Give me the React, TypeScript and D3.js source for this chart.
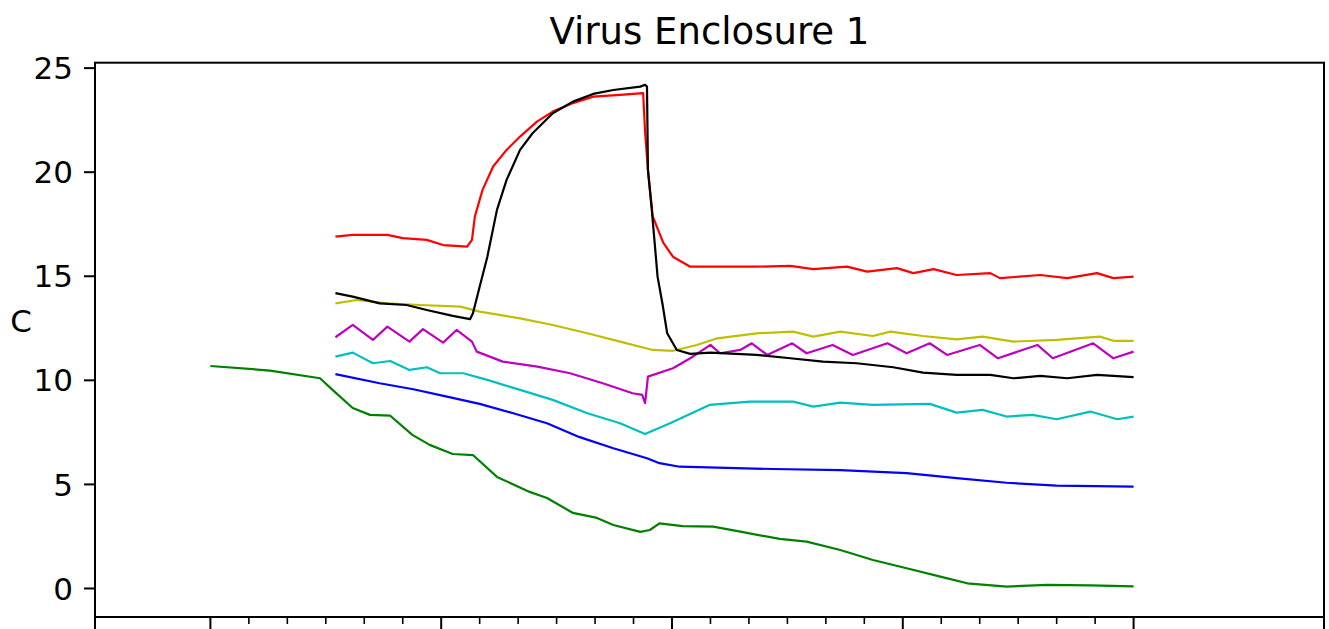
import React from "react";
import * as d3 from "d3";

// ---- data (x in hours from first major tick, y in °C) ----
const greenHours = [0, 6.2, 11.4, 12.7, 14.8, 16.6, 18.7, 21.0, 22.8, 25.2, 27.3, 29.8, 33.2, 35.0, 37.7, 40.2, 41.9, 44.7, 45.7, 46.7, 49.1, 52.3, 55.1, 59.2, 62.0, 65.5, 68.9, 72.4, 75.9, 78.7, 82.8, 87.0, 91.5, 96];
const greenValues = [10.69, 10.47, 10.1, 9.54, 8.67, 8.34, 8.3, 7.38, 6.9, 6.46, 6.41, 5.36, 4.64, 4.35, 3.63, 3.39, 3.05, 2.72, 2.81, 3.13, 3.0, 2.97, 2.73, 2.38, 2.25, 1.85, 1.37, 0.97, 0.57, 0.25, 0.09, 0.17, 0.15, 0.1];

const blueHours = [13, 17.6, 21.1, 24.6, 28.0, 31.5, 35.0, 38.4, 41.9, 45.4, 46.7, 48.8, 58.5, 65.5, 72.4, 77.6, 82.8, 88.0, 96];
const blueValues = [10.3, 9.86, 9.57, 9.22, 8.87, 8.42, 7.94, 7.27, 6.74, 6.26, 6.02, 5.85, 5.74, 5.69, 5.54, 5.3, 5.08, 4.94, 4.89];

const cyanHours = [13, 14.8, 16.9, 18.7, 20.7, 22.5, 23.9, 26.3, 28.8, 32.2, 35.6, 39.2, 42.6, 45.2, 47.8, 51.9, 56.1, 60.6, 62.7, 65.5, 68.9, 74.8, 77.6, 80.3, 82.8, 85.5, 88.0, 91.5, 94.3, 96];
const cyanValues = [11.14, 11.33, 10.82, 10.93, 10.5, 10.63, 10.34, 10.34, 10.02, 9.54, 9.06, 8.42, 7.94, 7.42, 7.94, 8.82, 8.98, 8.98, 8.74, 8.93, 8.82, 8.87, 8.45, 8.58, 8.26, 8.34, 8.13, 8.5, 8.13, 8.26];

const magentaHours = [13, 14.8, 16.9, 18.4, 20.7, 22.1, 24.2, 25.6, 27.2, 27.7, 30.4, 34.0, 37.4, 40.8, 43.9, 44.9, 45.2, 45.5, 48.1, 49.9, 52.0, 53.0, 55.1, 56.3, 57.9, 60.5, 62.0, 64.7, 66.8, 70.4, 72.4, 74.8, 76.6, 80.0, 81.9, 86.0, 87.6, 91.8, 93.9, 96];
const magentaValues = [12.07, 12.66, 11.94, 12.58, 11.86, 12.46, 11.81, 12.42, 11.86, 11.38, 10.9, 10.66, 10.34, 9.86, 9.38, 9.3, 8.9, 10.18, 10.58, 11.06, 11.7, 11.3, 11.46, 11.78, 11.22, 11.78, 11.3, 11.7, 11.22, 11.78, 11.3, 11.78, 11.22, 11.7, 11.06, 11.7, 11.06, 11.78, 11.06, 11.38];

const yellowHours = [13, 15.2, 18.4, 21.8, 26.0, 28.0, 32.2, 35.6, 39.2, 42.6, 46.0, 48.1, 50.6, 52.7, 56.8, 60.6, 62.7, 65.5, 68.9, 70.7, 74.1, 77.6, 80.3, 83.5, 88.0, 92.5, 93.9, 96];
const yellowValues = [13.7, 13.86, 13.7, 13.62, 13.54, 13.3, 12.98, 12.66, 12.26, 11.86, 11.46, 11.42, 11.7, 12.02, 12.26, 12.34, 12.1, 12.34, 12.13, 12.34, 12.13, 11.97, 12.1, 11.86, 11.94, 12.1, 11.9, 11.9];

const redHours = [13, 14.8, 18.4, 20.0, 22.5, 24.2, 26.7, 27.2, 27.5, 28.3, 29.4, 30.8, 32.2, 33.96, 35.6, 37.7, 39.8, 42.6, 45.0, 45.2, 45.5, 46.0, 47.1, 48.1, 49.9, 53.3, 56.8, 60.3, 62.7, 66.2, 68.3, 71.4, 73.1, 75.2, 77.6, 81.1, 82.1, 86.3, 89.1, 92.2, 93.9, 96];
const redValues = [16.9, 16.99, 16.99, 16.83, 16.75, 16.5, 16.42, 16.75, 17.87, 19.15, 20.27, 21.07, 21.71, 22.43, 22.91, 23.32, 23.63, 23.71, 23.8, 21.95, 20.1, 17.87, 16.6, 15.94, 15.46, 15.46, 15.46, 15.5, 15.34, 15.46, 15.22, 15.39, 15.15, 15.34, 15.06, 15.15, 14.91, 15.06, 14.91, 15.15, 14.91, 14.98];

const blackHours = [13, 14.8, 17.6, 20.4, 22.5, 25.2, 27.0, 27.3, 28.0, 28.8, 29.8, 30.8, 32.2, 33.5, 35.6, 37.7, 39.8, 41.9, 44.7, 45.2, 45.4, 45.5, 45.9, 46.2, 46.5, 47.0, 47.5, 48.5, 49.9, 52.0, 56.8, 60.3, 63.7, 67.2, 71.0, 74.1, 77.6, 81.1, 83.5, 86.3, 89.1, 92.2, 96];
const blackValues = [14.19, 14.02, 13.7, 13.62, 13.38, 13.1, 12.94, 13.22, 14.5, 15.94, 18.19, 19.63, 21.07, 21.87, 22.83, 23.39, 23.76, 23.95, 24.11, 24.2, 24.11, 20.1, 18.19, 16.59, 14.98, 13.7, 12.26, 11.46, 11.27, 11.33, 11.22, 11.06, 10.9, 10.82, 10.63, 10.37, 10.26, 10.26, 10.1, 10.21, 10.1, 10.26, 10.15];

const yTickValues = [0, 5, 10, 15, 20, 25];
const xMajorTicks = [-12, 0, 24, 48, 72, 96, 115.8];
const xMinorTicks = [4, 8, 12, 16, 20, 28, 32, 36, 40, 44, 52, 56, 60, 64, 68, 76, 80, 84, 88, 92];

const titleText = "Virus Enclosure 1";
const yLabelText = "C";

const series = [
  { name: "g", color: "#008000", hours: greenHours, values: greenValues },
  { name: "b", color: "#0000ff", hours: blueHours, values: blueValues },
  { name: "c", color: "#00bfbf", hours: cyanHours, values: cyanValues },
  { name: "m", color: "#bf00bf", hours: magentaHours, values: magentaValues },
  { name: "y", color: "#bfbf00", hours: yellowHours, values: yellowValues },
  { name: "r", color: "#ff0000", hours: redHours, values: redValues },
  { name: "k", color: "#000000", hours: blackHours, values: blackValues },
];

const W = 1329;
const H = 629;
const left = 95;
const right = 1324;
const top = 62.7;
const bottom = 617;

export default function App() {
  const x = d3.scaleLinear().domain([-12, 115.8]).range([left, right]);
  const y = d3.scaleLinear().domain([-1.37, 25.26]).range([bottom, top]);
  const line = d3
    .line<[number, number]>()
    .x((d) => x(d[0]))
    .y((d) => y(d[1]));

  const font = "'DejaVu Sans', sans-serif";

  return (
    <svg
      width={W}
      height={H}
      style={{ position: "absolute", left: 0, top: 0, background: "#fff" }}
      fontFamily={font}
    >
      <rect x={0} y={0} width={W} height={H} fill="#fff" />
      {series.map((s) => (
        <path
          key={s.name}
          d={line(s.hours.map((h, i) => [h, s.values[i]] as [number, number])) || ""}
          fill="none"
          stroke={s.color}
          strokeWidth={2.2}
          strokeLinejoin="round"
        />
      ))}
      <rect
        x={left}
        y={top}
        width={right - left}
        height={bottom - top}
        fill="none"
        stroke="#000"
        strokeWidth={2}
      />
      {yTickValues.map((v) => (
        <g key={"y" + v}>
          <line x1={left - 11} x2={left} y1={y(v)} y2={y(v)} stroke="#000" strokeWidth={2} />
          <text
            x={left - 22}
            y={y(v)}
            dy="0.36em"
            textAnchor="end"
            fontSize={31}
            fill="#000"
          >
            {v}
          </text>
        </g>
      ))}
      {xMajorTicks.map((t) => (
        <line key={"xM" + t} x1={x(t)} x2={x(t)} y1={bottom} y2={bottom + 12} stroke="#000" strokeWidth={2} />
      ))}
      {xMinorTicks.map((t) => (
        <line key={"xm" + t} x1={x(t)} x2={x(t)} y1={bottom} y2={bottom + 7} stroke="#000" strokeWidth={1.6} />
      ))}
      <text x={(left + right) / 2} y={44} textAnchor="middle" fontSize={37} fill="#000">
        {titleText}
      </text>
      <text x={21} y={332} textAnchor="middle" fontSize={31} fill="#000">
        {yLabelText}
      </text>
    </svg>
  );
}
